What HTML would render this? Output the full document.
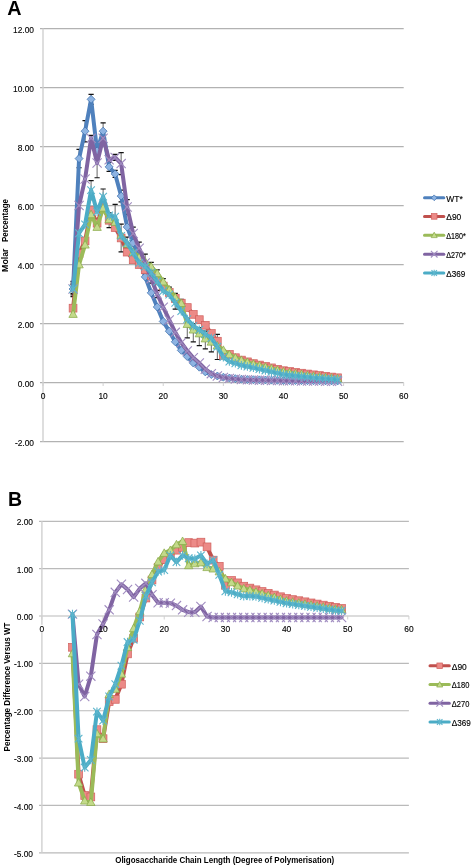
<!DOCTYPE html>
<html><head><meta charset="utf-8"><style>
html,body{margin:0;padding:0;background:#fff;width:472px;height:867px;overflow:hidden}
svg{display:block;font-family:"Liberation Sans",sans-serif;will-change:transform}
</style></head><body>
<svg width="472" height="867" viewBox="0 0 472 867">
<rect width="472" height="867" fill="#fff"/>
<text x="7.3" y="15" font-size="19.5" font-weight="bold" fill="#000" textLength="14.3" lengthAdjust="spacingAndGlyphs">A</text>
<line x1="40" y1="28.5" x2="403.7" y2="28.5" stroke="#B2B2B2" stroke-width="1.25"/>
<text x="34" y="32.6" font-size="8.4" text-anchor="end" fill="#000" stroke="#000" stroke-width="0.12">12.00</text>
<line x1="40" y1="87.5" x2="403.7" y2="87.5" stroke="#B2B2B2" stroke-width="1.25"/>
<text x="34" y="91.6" font-size="8.4" text-anchor="end" fill="#000" stroke="#000" stroke-width="0.12">10.00</text>
<line x1="40" y1="146.5" x2="403.7" y2="146.5" stroke="#B2B2B2" stroke-width="1.25"/>
<text x="34" y="150.6" font-size="8.4" text-anchor="end" fill="#000" stroke="#000" stroke-width="0.12">8.00</text>
<line x1="40" y1="205.5" x2="403.7" y2="205.5" stroke="#B2B2B2" stroke-width="1.25"/>
<text x="34" y="209.6" font-size="8.4" text-anchor="end" fill="#000" stroke="#000" stroke-width="0.12">6.00</text>
<line x1="40" y1="264.5" x2="403.7" y2="264.5" stroke="#B2B2B2" stroke-width="1.25"/>
<text x="34" y="268.6" font-size="8.4" text-anchor="end" fill="#000" stroke="#000" stroke-width="0.12">4.00</text>
<line x1="40" y1="323.5" x2="403.7" y2="323.5" stroke="#B2B2B2" stroke-width="1.25"/>
<text x="34" y="327.6" font-size="8.4" text-anchor="end" fill="#000" stroke="#000" stroke-width="0.12">2.00</text>
<line x1="40" y1="382.5" x2="403.7" y2="382.5" stroke="#B2B2B2" stroke-width="1.25"/>
<text x="34" y="386.6" font-size="8.4" text-anchor="end" fill="#000" stroke="#000" stroke-width="0.12">0.00</text>
<line x1="40" y1="441.5" x2="403.7" y2="441.5" stroke="#B2B2B2" stroke-width="1.25"/>
<text x="34" y="445.6" font-size="8.4" text-anchor="end" fill="#000" stroke="#000" stroke-width="0.12">-2.00</text>
<line x1="43" y1="28.5" x2="43" y2="441.5" stroke="#D0D0D0" stroke-width="1.4"/>
<line x1="43" y1="382.5" x2="43" y2="386" stroke="#D0D0D0" stroke-width="1"/>
<line x1="103.12" y1="382.5" x2="103.12" y2="386" stroke="#D0D0D0" stroke-width="1"/>
<line x1="163.23" y1="382.5" x2="163.23" y2="386" stroke="#D0D0D0" stroke-width="1"/>
<line x1="223.35" y1="382.5" x2="223.35" y2="386" stroke="#D0D0D0" stroke-width="1"/>
<line x1="283.47" y1="382.5" x2="283.47" y2="386" stroke="#D0D0D0" stroke-width="1"/>
<line x1="343.58" y1="382.5" x2="343.58" y2="386" stroke="#D0D0D0" stroke-width="1"/>
<line x1="403.7" y1="382.5" x2="403.7" y2="386" stroke="#D0D0D0" stroke-width="1"/>
<text transform="translate(43 399.0) scale(1 1.13)" font-size="8.4" text-anchor="middle" fill="#000" stroke="#000" stroke-width="0.12">0</text>
<text transform="translate(103.12 399.0) scale(1 1.13)" font-size="8.4" text-anchor="middle" fill="#000" stroke="#000" stroke-width="0.12">10</text>
<text transform="translate(163.23 399.0) scale(1 1.13)" font-size="8.4" text-anchor="middle" fill="#000" stroke="#000" stroke-width="0.12">20</text>
<text transform="translate(223.35 399.0) scale(1 1.13)" font-size="8.4" text-anchor="middle" fill="#000" stroke="#000" stroke-width="0.12">30</text>
<text transform="translate(283.47 399.0) scale(1 1.13)" font-size="8.4" text-anchor="middle" fill="#000" stroke="#000" stroke-width="0.12">40</text>
<text transform="translate(343.58 399.0) scale(1 1.13)" font-size="8.4" text-anchor="middle" fill="#000" stroke="#000" stroke-width="0.12">50</text>
<text transform="translate(403.7 399.0) scale(1 1.13)" font-size="8.4" text-anchor="middle" fill="#000" stroke="#000" stroke-width="0.12">60</text>
<text transform="translate(7.7 260.2) rotate(-90)" font-size="8.3" font-weight="bold" text-anchor="middle" fill="#000" textLength="23.5" lengthAdjust="spacingAndGlyphs">Molar</text>
<text transform="translate(7.7 220.5) rotate(-90)" font-size="8.3" font-weight="bold" text-anchor="middle" fill="#000" textLength="43" lengthAdjust="spacingAndGlyphs">Percentage</text>
<path d="M73.06 281.31L73.06 296.65" stroke="#555" stroke-width="0.9"/><path d="M70.46 281.31L75.66 281.31M70.46 296.65L75.66 296.65" stroke="#111" stroke-width="1.2"/>
<path d="M79.07 149.45L79.07 167.74" stroke="#555" stroke-width="0.9"/><path d="M76.47 149.45L81.67 149.45M76.47 167.74L81.67 167.74" stroke="#111" stroke-width="1.2"/>
<path d="M85.08 120.54L85.08 141.78" stroke="#555" stroke-width="0.9"/><path d="M82.48 120.54L87.68 120.54M82.48 141.78L87.68 141.78" stroke="#111" stroke-width="1.2"/>
<path d="M91.09 94.29L91.09 104.31" stroke="#555" stroke-width="0.9"/><path d="M88.49 94.29L93.69 94.29M88.49 104.31L93.69 104.31" stroke="#111" stroke-width="1.2"/>
<path d="M97.1 145.03L97.1 156.83" stroke="#555" stroke-width="0.9"/><path d="M94.5 145.03L99.7 145.03M94.5 156.83L99.7 156.83" stroke="#111" stroke-width="1.2"/>
<path d="M103.12 122.9L103.12 139.42" stroke="#555" stroke-width="0.9"/><path d="M100.52 122.9L105.72 122.9M100.52 139.42L105.72 139.42" stroke="#111" stroke-width="1.2"/>
<path d="M109.13 162.43L109.13 171.28" stroke="#555" stroke-width="0.9"/><path d="M106.53 162.43L111.73 162.43M106.53 171.28L111.73 171.28" stroke="#111" stroke-width="1.2"/>
<path d="M115.14 170.39L115.14 177.47" stroke="#555" stroke-width="0.9"/><path d="M112.54 170.39L117.74 170.39M112.54 177.47L117.74 177.47" stroke="#111" stroke-width="1.2"/>
<path d="M121.15 190.16L121.15 201.96" stroke="#555" stroke-width="0.9"/><path d="M118.55 190.16L123.75 190.16M118.55 201.96L123.75 201.96" stroke="#111" stroke-width="1.2"/>
<path d="M109.13 212.88L109.13 227.62" stroke="#555" stroke-width="0.9"/><path d="M106.53 212.88L111.73 212.88M106.53 227.62L111.73 227.62" stroke="#111" stroke-width="1.2"/>
<path d="M121.15 224.09L121.15 251.81" stroke="#555" stroke-width="0.9"/><path d="M118.55 224.09L123.75 224.09M118.55 251.81L123.75 251.81" stroke="#111" stroke-width="1.2"/>
<path d="M151.21 262.44L151.21 270.69" stroke="#555" stroke-width="0.9"/><path d="M148.61 262.44L153.81 262.44M148.61 270.69L153.81 270.69" stroke="#111" stroke-width="1.2"/>
<path d="M157.22 269.81L157.22 276.89" stroke="#555" stroke-width="0.9"/><path d="M154.62 269.81L159.82 269.81M154.62 276.89L159.82 276.89" stroke="#111" stroke-width="1.2"/>
<path d="M163.23 278.66L163.23 284.56" stroke="#555" stroke-width="0.9"/><path d="M160.63 278.66L165.83 278.66M160.63 284.56L165.83 284.56" stroke="#111" stroke-width="1.2"/>
<path d="M169.25 287.21L169.25 291.94" stroke="#555" stroke-width="0.9"/><path d="M166.65 287.21L171.84 287.21M166.65 291.94L171.84 291.94" stroke="#111" stroke-width="1.2"/>
<path d="M175.26 293.41L175.26 301.08" stroke="#555" stroke-width="0.9"/><path d="M172.66 293.41L177.86 293.41M172.66 301.08L177.86 301.08" stroke="#111" stroke-width="1.2"/>
<path d="M181.27 299.31L181.27 306.98" stroke="#555" stroke-width="0.9"/><path d="M178.67 299.31L183.87 299.31M178.67 306.98L183.87 306.98" stroke="#111" stroke-width="1.2"/>
<path d="M187.28 318.19L187.28 337.95" stroke="#555" stroke-width="0.9"/><path d="M184.68 318.19L189.88 318.19M184.68 337.95L189.88 337.95" stroke="#111" stroke-width="1.2"/>
<path d="M193.29 323.8L193.29 341.79" stroke="#555" stroke-width="0.9"/><path d="M190.69 323.8L195.89 323.8M190.69 341.79L195.89 341.79" stroke="#111" stroke-width="1.2"/>
<path d="M199.3 327.63L199.3 345.62" stroke="#555" stroke-width="0.9"/><path d="M196.7 327.63L201.9 327.63M196.7 345.62L201.9 345.62" stroke="#111" stroke-width="1.2"/>
<path d="M205.31 331.17L205.31 348.87" stroke="#555" stroke-width="0.9"/><path d="M202.72 331.17L207.91 331.17M202.72 348.87L207.91 348.87" stroke="#111" stroke-width="1.2"/>
<path d="M211.33 331.17L211.33 351.82" stroke="#555" stroke-width="0.9"/><path d="M208.73 331.17L213.93 331.17M208.73 351.82L213.93 351.82" stroke="#111" stroke-width="1.2"/>
<path d="M217.34 334.42L217.34 359.49" stroke="#555" stroke-width="0.9"/><path d="M214.74 334.42L219.94 334.42M214.74 359.49L219.94 359.49" stroke="#111" stroke-width="1.2"/>
<path d="M73.06 284.56L73.06 293.41" stroke="#555" stroke-width="0.9"/><path d="M70.46 284.56L75.66 284.56M70.46 293.41L75.66 293.41" stroke="#111" stroke-width="1.2"/>
<path d="M91.09 135.29L91.09 141.19" stroke="#555" stroke-width="0.9"/><path d="M88.49 135.29L93.69 135.29M88.49 141.19L93.69 141.19" stroke="#111" stroke-width="1.2"/>
<path d="M97.1 148.27L97.1 177.77" stroke="#555" stroke-width="0.9"/><path d="M94.5 148.27L99.7 148.27M94.5 177.77L99.7 177.77" stroke="#111" stroke-width="1.2"/>
<path d="M115.14 154.47L115.14 160.37" stroke="#555" stroke-width="0.9"/><path d="M112.54 154.47L117.74 154.47M112.54 160.37L117.74 160.37" stroke="#111" stroke-width="1.2"/>
<path d="M121.15 152.7L121.15 174.53" stroke="#555" stroke-width="0.9"/><path d="M118.55 152.7L123.75 152.7M118.55 174.53L123.75 174.53" stroke="#111" stroke-width="1.2"/>
<path d="M127.16 199.6L127.16 214.35" stroke="#555" stroke-width="0.9"/><path d="M124.56 199.6L129.76 199.6M124.56 214.35L129.76 214.35" stroke="#111" stroke-width="1.2"/>
<path d="M133.18 227.03L133.18 240.02" stroke="#555" stroke-width="0.9"/><path d="M130.58 227.03L135.78 227.03M130.58 240.02L135.78 240.02" stroke="#111" stroke-width="1.2"/>
<path d="M139.19 242.08L139.19 254.47" stroke="#555" stroke-width="0.9"/><path d="M136.59 242.08L141.79 242.08M136.59 254.47L141.79 254.47" stroke="#111" stroke-width="1.2"/>
<path d="M145.2 254.18L145.2 271.88" stroke="#555" stroke-width="0.9"/><path d="M142.6 254.18L147.8 254.18M142.6 271.88L147.8 271.88" stroke="#111" stroke-width="1.2"/>
<path d="M151.21 274.24L151.21 283.08" stroke="#555" stroke-width="0.9"/><path d="M148.61 274.24L153.81 274.24M148.61 283.08L153.81 283.08" stroke="#111" stroke-width="1.2"/>
<path d="M157.22 290.46L157.22 297.54" stroke="#555" stroke-width="0.9"/><path d="M154.62 290.46L159.82 290.46M154.62 297.54L159.82 297.54" stroke="#111" stroke-width="1.2"/>
<path d="M73.06 283.08L73.06 294.88" stroke="#555" stroke-width="0.9"/><path d="M70.46 283.08L75.66 283.08M70.46 294.88L75.66 294.88" stroke="#111" stroke-width="1.2"/>
<path d="M91.09 180.72L91.09 199.6" stroke="#555" stroke-width="0.9"/><path d="M88.49 180.72L93.69 180.72M88.49 199.6L93.69 199.6" stroke="#111" stroke-width="1.2"/>
<path d="M103.12 188.98L103.12 204.32" stroke="#555" stroke-width="0.9"/><path d="M100.52 188.98L105.72 188.98M100.52 204.32L105.72 204.32" stroke="#111" stroke-width="1.2"/>
<path d="M115.14 204.32L115.14 229.1" stroke="#555" stroke-width="0.9"/><path d="M112.54 204.32L117.74 204.32M112.54 229.1L117.74 229.1" stroke="#111" stroke-width="1.2"/>
<path d="M127.16 237.06L127.16 248.86" stroke="#555" stroke-width="0.9"/><path d="M124.56 237.06L129.76 237.06M124.56 248.86L129.76 248.86" stroke="#111" stroke-width="1.2"/>
<path d="M175.26 296.65L175.26 309.05" stroke="#555" stroke-width="0.9"/><path d="M172.66 296.65L177.86 296.65M172.66 309.05L177.86 309.05" stroke="#111" stroke-width="1.2"/>
<polyline points="73.06,288.99 79.07,158.59 85.08,131.16 91.09,99.3 97.1,150.92 103.12,131.16 109.13,166.86 115.14,173.93 121.15,196.06 127.16,227.03 133.18,242.97 139.19,258.6 145.2,276.89 151.21,292.82 157.22,306.98 163.23,321.44 169.25,331.17 175.26,341.79 181.27,350.35 187.28,356.54 193.29,363.03 199.3,367.16 205.31,371.88 211.33,374.54 217.34,376.01 223.35,377.19 229.36,378.07 235.37,378.67 241.39,379.25 247.4,379.55 253.41,379.7 259.42,379.85 265.43,379.99 271.44,380.14 277.45,380.29 283.47,380.44 289.48,380.5 295.49,380.57 301.5,380.63 307.51,380.7 313.52,380.76 319.54,380.83 325.55,380.89 331.56,380.96 337.57,381.02" fill="none" stroke="#4F81BD" stroke-width="4.0" stroke-linejoin="round" stroke-linecap="round"/>
<path d="M73.06 284.99L77.06 288.99L73.06 292.99L69.06 288.99Z" fill="#8DB3E2" stroke="#3A6DAA" stroke-width="0.7"/>
<path d="M79.07 154.59L83.07 158.59L79.07 162.59L75.07 158.59Z" fill="#8DB3E2" stroke="#3A6DAA" stroke-width="0.7"/>
<path d="M85.08 127.16L89.08 131.16L85.08 135.16L81.08 131.16Z" fill="#8DB3E2" stroke="#3A6DAA" stroke-width="0.7"/>
<path d="M91.09 95.3L95.09 99.3L91.09 103.3L87.09 99.3Z" fill="#8DB3E2" stroke="#3A6DAA" stroke-width="0.7"/>
<path d="M97.1 146.92L101.1 150.92L97.1 154.92L93.1 150.92Z" fill="#8DB3E2" stroke="#3A6DAA" stroke-width="0.7"/>
<path d="M103.12 127.16L107.12 131.16L103.12 135.16L99.12 131.16Z" fill="#8DB3E2" stroke="#3A6DAA" stroke-width="0.7"/>
<path d="M109.13 162.86L113.13 166.86L109.13 170.86L105.13 166.86Z" fill="#8DB3E2" stroke="#3A6DAA" stroke-width="0.7"/>
<path d="M115.14 169.93L119.14 173.93L115.14 177.93L111.14 173.93Z" fill="#8DB3E2" stroke="#3A6DAA" stroke-width="0.7"/>
<path d="M121.15 192.06L125.15 196.06L121.15 200.06L117.15 196.06Z" fill="#8DB3E2" stroke="#3A6DAA" stroke-width="0.7"/>
<path d="M127.16 223.03L131.16 227.03L127.16 231.03L123.16 227.03Z" fill="#8DB3E2" stroke="#3A6DAA" stroke-width="0.7"/>
<path d="M133.18 238.97L137.18 242.97L133.18 246.97L129.18 242.97Z" fill="#8DB3E2" stroke="#3A6DAA" stroke-width="0.7"/>
<path d="M139.19 254.6L143.19 258.6L139.19 262.6L135.19 258.6Z" fill="#8DB3E2" stroke="#3A6DAA" stroke-width="0.7"/>
<path d="M145.2 272.89L149.2 276.89L145.2 280.89L141.2 276.89Z" fill="#8DB3E2" stroke="#3A6DAA" stroke-width="0.7"/>
<path d="M151.21 288.82L155.21 292.82L151.21 296.82L147.21 292.82Z" fill="#8DB3E2" stroke="#3A6DAA" stroke-width="0.7"/>
<path d="M157.22 302.98L161.22 306.98L157.22 310.98L153.22 306.98Z" fill="#8DB3E2" stroke="#3A6DAA" stroke-width="0.7"/>
<path d="M163.23 317.44L167.23 321.44L163.23 325.44L159.23 321.44Z" fill="#8DB3E2" stroke="#3A6DAA" stroke-width="0.7"/>
<path d="M169.25 327.17L173.25 331.17L169.25 335.17L165.25 331.17Z" fill="#8DB3E2" stroke="#3A6DAA" stroke-width="0.7"/>
<path d="M175.26 337.79L179.26 341.79L175.26 345.79L171.26 341.79Z" fill="#8DB3E2" stroke="#3A6DAA" stroke-width="0.7"/>
<path d="M181.27 346.35L185.27 350.35L181.27 354.35L177.27 350.35Z" fill="#8DB3E2" stroke="#3A6DAA" stroke-width="0.7"/>
<path d="M187.28 352.54L191.28 356.54L187.28 360.54L183.28 356.54Z" fill="#8DB3E2" stroke="#3A6DAA" stroke-width="0.7"/>
<path d="M193.29 359.03L197.29 363.03L193.29 367.03L189.29 363.03Z" fill="#8DB3E2" stroke="#3A6DAA" stroke-width="0.7"/>
<path d="M199.3 363.16L203.3 367.16L199.3 371.16L195.3 367.16Z" fill="#8DB3E2" stroke="#3A6DAA" stroke-width="0.7"/>
<path d="M205.31 367.88L209.31 371.88L205.31 375.88L201.31 371.88Z" fill="#8DB3E2" stroke="#3A6DAA" stroke-width="0.7"/>
<path d="M211.33 370.54L215.33 374.54L211.33 378.54L207.33 374.54Z" fill="#8DB3E2" stroke="#3A6DAA" stroke-width="0.7"/>
<path d="M217.34 372.01L221.34 376.01L217.34 380.01L213.34 376.01Z" fill="#8DB3E2" stroke="#3A6DAA" stroke-width="0.7"/>
<path d="M223.35 373.19L227.35 377.19L223.35 381.19L219.35 377.19Z" fill="#8DB3E2" stroke="#3A6DAA" stroke-width="0.7"/>
<path d="M229.36 374.07L233.36 378.07L229.36 382.07L225.36 378.07Z" fill="#8DB3E2" stroke="#3A6DAA" stroke-width="0.7"/>
<path d="M235.37 374.67L239.37 378.67L235.37 382.67L231.37 378.67Z" fill="#8DB3E2" stroke="#3A6DAA" stroke-width="0.7"/>
<path d="M241.39 375.25L245.39 379.25L241.39 383.25L237.39 379.25Z" fill="#8DB3E2" stroke="#3A6DAA" stroke-width="0.7"/>
<path d="M247.4 375.55L251.4 379.55L247.4 383.55L243.4 379.55Z" fill="#8DB3E2" stroke="#3A6DAA" stroke-width="0.7"/>
<path d="M253.41 375.7L257.41 379.7L253.41 383.7L249.41 379.7Z" fill="#8DB3E2" stroke="#3A6DAA" stroke-width="0.7"/>
<path d="M259.42 375.85L263.42 379.85L259.42 383.85L255.42 379.85Z" fill="#8DB3E2" stroke="#3A6DAA" stroke-width="0.7"/>
<path d="M265.43 375.99L269.43 379.99L265.43 383.99L261.43 379.99Z" fill="#8DB3E2" stroke="#3A6DAA" stroke-width="0.7"/>
<path d="M271.44 376.14L275.44 380.14L271.44 384.14L267.44 380.14Z" fill="#8DB3E2" stroke="#3A6DAA" stroke-width="0.7"/>
<path d="M277.45 376.29L281.45 380.29L277.45 384.29L273.45 380.29Z" fill="#8DB3E2" stroke="#3A6DAA" stroke-width="0.7"/>
<path d="M283.47 376.44L287.47 380.44L283.47 384.44L279.47 380.44Z" fill="#8DB3E2" stroke="#3A6DAA" stroke-width="0.7"/>
<path d="M289.48 376.5L293.48 380.5L289.48 384.5L285.48 380.5Z" fill="#8DB3E2" stroke="#3A6DAA" stroke-width="0.7"/>
<path d="M295.49 376.57L299.49 380.57L295.49 384.57L291.49 380.57Z" fill="#8DB3E2" stroke="#3A6DAA" stroke-width="0.7"/>
<path d="M301.5 376.63L305.5 380.63L301.5 384.63L297.5 380.63Z" fill="#8DB3E2" stroke="#3A6DAA" stroke-width="0.7"/>
<path d="M307.51 376.7L311.51 380.7L307.51 384.7L303.51 380.7Z" fill="#8DB3E2" stroke="#3A6DAA" stroke-width="0.7"/>
<path d="M313.52 376.76L317.52 380.76L313.52 384.76L309.52 380.76Z" fill="#8DB3E2" stroke="#3A6DAA" stroke-width="0.7"/>
<path d="M319.54 376.83L323.54 380.83L319.54 384.83L315.54 380.83Z" fill="#8DB3E2" stroke="#3A6DAA" stroke-width="0.7"/>
<path d="M325.55 376.89L329.55 380.89L325.55 384.89L321.55 380.89Z" fill="#8DB3E2" stroke="#3A6DAA" stroke-width="0.7"/>
<path d="M331.56 376.96L335.56 380.96L331.56 384.96L327.56 380.96Z" fill="#8DB3E2" stroke="#3A6DAA" stroke-width="0.7"/>
<path d="M337.57 377.02L341.57 381.02L337.57 385.02L333.57 381.02Z" fill="#8DB3E2" stroke="#3A6DAA" stroke-width="0.7"/>
<polyline points="73.06,308.16 79.07,253.59 85.08,240.9 91.09,210.51 97.1,223.2 103.12,206.97 109.13,220.25 115.14,227.62 121.15,237.95 127.16,252.11 133.18,259.78 139.19,264.5 145.2,269.81 151.21,275.71 157.22,280.73 163.23,286.04 169.25,292.52 175.26,298.43 181.27,303.14 187.28,307.57 193.29,314.36 199.3,319.67 205.31,325.27 211.33,333.53 217.34,341.2 223.35,355.36 229.36,354.48 235.37,357.72 241.39,360.08 247.4,361.85 253.41,363.62 259.42,365.04 265.43,366.45 271.44,367.87 277.45,369.28 283.47,370.7 289.48,371.53 295.49,372.35 301.5,373.18 307.51,374 313.52,374.83 319.54,375.57 325.55,376.31 331.56,377.04 337.57,377.78" fill="none" stroke="#C0504D" stroke-width="4.0" stroke-linejoin="round" stroke-linecap="round"/>
<rect x="69.16" y="304.26" width="7.8" height="7.8" fill="#EC8A87" stroke="#D0605D" stroke-width="0.7"/>
<rect x="75.17" y="249.69" width="7.8" height="7.8" fill="#EC8A87" stroke="#D0605D" stroke-width="0.7"/>
<rect x="81.18" y="237" width="7.8" height="7.8" fill="#EC8A87" stroke="#D0605D" stroke-width="0.7"/>
<rect x="87.19" y="206.61" width="7.8" height="7.8" fill="#EC8A87" stroke="#D0605D" stroke-width="0.7"/>
<rect x="93.2" y="219.3" width="7.8" height="7.8" fill="#EC8A87" stroke="#D0605D" stroke-width="0.7"/>
<rect x="99.22" y="203.07" width="7.8" height="7.8" fill="#EC8A87" stroke="#D0605D" stroke-width="0.7"/>
<rect x="105.23" y="216.35" width="7.8" height="7.8" fill="#EC8A87" stroke="#D0605D" stroke-width="0.7"/>
<rect x="111.24" y="223.72" width="7.8" height="7.8" fill="#EC8A87" stroke="#D0605D" stroke-width="0.7"/>
<rect x="117.25" y="234.05" width="7.8" height="7.8" fill="#EC8A87" stroke="#D0605D" stroke-width="0.7"/>
<rect x="123.26" y="248.21" width="7.8" height="7.8" fill="#EC8A87" stroke="#D0605D" stroke-width="0.7"/>
<rect x="129.28" y="255.88" width="7.8" height="7.8" fill="#EC8A87" stroke="#D0605D" stroke-width="0.7"/>
<rect x="135.29" y="260.6" width="7.8" height="7.8" fill="#EC8A87" stroke="#D0605D" stroke-width="0.7"/>
<rect x="141.3" y="265.91" width="7.8" height="7.8" fill="#EC8A87" stroke="#D0605D" stroke-width="0.7"/>
<rect x="147.31" y="271.81" width="7.8" height="7.8" fill="#EC8A87" stroke="#D0605D" stroke-width="0.7"/>
<rect x="153.32" y="276.83" width="7.8" height="7.8" fill="#EC8A87" stroke="#D0605D" stroke-width="0.7"/>
<rect x="159.33" y="282.14" width="7.8" height="7.8" fill="#EC8A87" stroke="#D0605D" stroke-width="0.7"/>
<rect x="165.34" y="288.62" width="7.8" height="7.8" fill="#EC8A87" stroke="#D0605D" stroke-width="0.7"/>
<rect x="171.36" y="294.53" width="7.8" height="7.8" fill="#EC8A87" stroke="#D0605D" stroke-width="0.7"/>
<rect x="177.37" y="299.25" width="7.8" height="7.8" fill="#EC8A87" stroke="#D0605D" stroke-width="0.7"/>
<rect x="183.38" y="303.67" width="7.8" height="7.8" fill="#EC8A87" stroke="#D0605D" stroke-width="0.7"/>
<rect x="189.39" y="310.46" width="7.8" height="7.8" fill="#EC8A87" stroke="#D0605D" stroke-width="0.7"/>
<rect x="195.4" y="315.77" width="7.8" height="7.8" fill="#EC8A87" stroke="#D0605D" stroke-width="0.7"/>
<rect x="201.41" y="321.37" width="7.8" height="7.8" fill="#EC8A87" stroke="#D0605D" stroke-width="0.7"/>
<rect x="207.43" y="329.63" width="7.8" height="7.8" fill="#EC8A87" stroke="#D0605D" stroke-width="0.7"/>
<rect x="213.44" y="337.3" width="7.8" height="7.8" fill="#EC8A87" stroke="#D0605D" stroke-width="0.7"/>
<rect x="219.45" y="351.46" width="7.8" height="7.8" fill="#EC8A87" stroke="#D0605D" stroke-width="0.7"/>
<rect x="225.46" y="350.58" width="7.8" height="7.8" fill="#EC8A87" stroke="#D0605D" stroke-width="0.7"/>
<rect x="231.47" y="353.82" width="7.8" height="7.8" fill="#EC8A87" stroke="#D0605D" stroke-width="0.7"/>
<rect x="237.49" y="356.18" width="7.8" height="7.8" fill="#EC8A87" stroke="#D0605D" stroke-width="0.7"/>
<rect x="243.5" y="357.95" width="7.8" height="7.8" fill="#EC8A87" stroke="#D0605D" stroke-width="0.7"/>
<rect x="249.51" y="359.72" width="7.8" height="7.8" fill="#EC8A87" stroke="#D0605D" stroke-width="0.7"/>
<rect x="255.52" y="361.14" width="7.8" height="7.8" fill="#EC8A87" stroke="#D0605D" stroke-width="0.7"/>
<rect x="261.53" y="362.55" width="7.8" height="7.8" fill="#EC8A87" stroke="#D0605D" stroke-width="0.7"/>
<rect x="267.54" y="363.97" width="7.8" height="7.8" fill="#EC8A87" stroke="#D0605D" stroke-width="0.7"/>
<rect x="273.56" y="365.38" width="7.8" height="7.8" fill="#EC8A87" stroke="#D0605D" stroke-width="0.7"/>
<rect x="279.57" y="366.8" width="7.8" height="7.8" fill="#EC8A87" stroke="#D0605D" stroke-width="0.7"/>
<rect x="285.58" y="367.63" width="7.8" height="7.8" fill="#EC8A87" stroke="#D0605D" stroke-width="0.7"/>
<rect x="291.59" y="368.45" width="7.8" height="7.8" fill="#EC8A87" stroke="#D0605D" stroke-width="0.7"/>
<rect x="297.6" y="369.28" width="7.8" height="7.8" fill="#EC8A87" stroke="#D0605D" stroke-width="0.7"/>
<rect x="303.61" y="370.1" width="7.8" height="7.8" fill="#EC8A87" stroke="#D0605D" stroke-width="0.7"/>
<rect x="309.62" y="370.93" width="7.8" height="7.8" fill="#EC8A87" stroke="#D0605D" stroke-width="0.7"/>
<rect x="315.64" y="371.67" width="7.8" height="7.8" fill="#EC8A87" stroke="#D0605D" stroke-width="0.7"/>
<rect x="321.65" y="372.41" width="7.8" height="7.8" fill="#EC8A87" stroke="#D0605D" stroke-width="0.7"/>
<rect x="327.66" y="373.14" width="7.8" height="7.8" fill="#EC8A87" stroke="#D0605D" stroke-width="0.7"/>
<rect x="333.67" y="373.88" width="7.8" height="7.8" fill="#EC8A87" stroke="#D0605D" stroke-width="0.7"/>
<polyline points="73.06,314.06 79.07,264.5 85.08,244.73 91.09,214.35 97.1,227.03 103.12,207.86 109.13,219.36 115.14,222.02 121.15,235 127.16,243.85 133.18,252.11 139.19,257.12 145.2,261.55 151.21,266.56 157.22,273.35 163.23,281.61 169.25,289.57 175.26,297.25 181.27,303.14 187.28,324.09 193.29,329.69 199.3,333.53 205.31,338.55 211.33,341.79 217.34,345.62 223.35,350.05 229.36,354.48 235.37,357.72 241.39,360.08 247.4,362.14 253.41,363.92 259.42,365.45 265.43,366.98 271.44,368.52 277.45,370.05 283.47,371.58 289.48,372.47 295.49,373.36 301.5,374.24 307.51,375.12 313.52,376.01 319.54,376.6 325.55,377.19 331.56,377.78 337.57,378.37" fill="none" stroke="#9BBB59" stroke-width="4.0" stroke-linejoin="round" stroke-linecap="round"/>
<path d="M73.06 309.86L77.26 317.42L68.86 317.42Z" fill="#C3DA8A" stroke="#86A846" stroke-width="0.7"/>
<path d="M79.07 260.3L83.27 267.86L74.87 267.86Z" fill="#C3DA8A" stroke="#86A846" stroke-width="0.7"/>
<path d="M85.08 240.53L89.28 248.09L80.88 248.09Z" fill="#C3DA8A" stroke="#86A846" stroke-width="0.7"/>
<path d="M91.09 210.15L95.29 217.71L86.89 217.71Z" fill="#C3DA8A" stroke="#86A846" stroke-width="0.7"/>
<path d="M97.1 222.84L101.3 230.4L92.9 230.4Z" fill="#C3DA8A" stroke="#86A846" stroke-width="0.7"/>
<path d="M103.12 203.66L107.32 211.22L98.92 211.22Z" fill="#C3DA8A" stroke="#86A846" stroke-width="0.7"/>
<path d="M109.13 215.16L113.33 222.72L104.93 222.72Z" fill="#C3DA8A" stroke="#86A846" stroke-width="0.7"/>
<path d="M115.14 217.82L119.34 225.38L110.94 225.38Z" fill="#C3DA8A" stroke="#86A846" stroke-width="0.7"/>
<path d="M121.15 230.8L125.35 238.36L116.95 238.36Z" fill="#C3DA8A" stroke="#86A846" stroke-width="0.7"/>
<path d="M127.16 239.65L131.36 247.21L122.96 247.21Z" fill="#C3DA8A" stroke="#86A846" stroke-width="0.7"/>
<path d="M133.18 247.91L137.38 255.47L128.98 255.47Z" fill="#C3DA8A" stroke="#86A846" stroke-width="0.7"/>
<path d="M139.19 252.93L143.39 260.49L134.99 260.49Z" fill="#C3DA8A" stroke="#86A846" stroke-width="0.7"/>
<path d="M145.2 257.35L149.4 264.91L141 264.91Z" fill="#C3DA8A" stroke="#86A846" stroke-width="0.7"/>
<path d="M151.21 262.37L155.41 269.93L147.01 269.93Z" fill="#C3DA8A" stroke="#86A846" stroke-width="0.7"/>
<path d="M157.22 269.15L161.42 276.71L153.02 276.71Z" fill="#C3DA8A" stroke="#86A846" stroke-width="0.7"/>
<path d="M163.23 277.41L167.43 284.97L159.03 284.97Z" fill="#C3DA8A" stroke="#86A846" stroke-width="0.7"/>
<path d="M169.25 285.38L173.44 292.94L165.05 292.94Z" fill="#C3DA8A" stroke="#86A846" stroke-width="0.7"/>
<path d="M175.26 293.05L179.46 300.61L171.06 300.61Z" fill="#C3DA8A" stroke="#86A846" stroke-width="0.7"/>
<path d="M181.27 298.94L185.47 306.5L177.07 306.5Z" fill="#C3DA8A" stroke="#86A846" stroke-width="0.7"/>
<path d="M187.28 319.89L191.48 327.45L183.08 327.45Z" fill="#C3DA8A" stroke="#86A846" stroke-width="0.7"/>
<path d="M193.29 325.5L197.49 333.06L189.09 333.06Z" fill="#C3DA8A" stroke="#86A846" stroke-width="0.7"/>
<path d="M199.3 329.33L203.5 336.89L195.1 336.89Z" fill="#C3DA8A" stroke="#86A846" stroke-width="0.7"/>
<path d="M205.31 334.35L209.51 341.91L201.12 341.91Z" fill="#C3DA8A" stroke="#86A846" stroke-width="0.7"/>
<path d="M211.33 337.59L215.53 345.15L207.13 345.15Z" fill="#C3DA8A" stroke="#86A846" stroke-width="0.7"/>
<path d="M217.34 341.43L221.54 348.99L213.14 348.99Z" fill="#C3DA8A" stroke="#86A846" stroke-width="0.7"/>
<path d="M223.35 345.85L227.55 353.41L219.15 353.41Z" fill="#C3DA8A" stroke="#86A846" stroke-width="0.7"/>
<path d="M229.36 350.28L233.56 357.84L225.16 357.84Z" fill="#C3DA8A" stroke="#86A846" stroke-width="0.7"/>
<path d="M235.37 353.52L239.57 361.08L231.17 361.08Z" fill="#C3DA8A" stroke="#86A846" stroke-width="0.7"/>
<path d="M241.39 355.88L245.59 363.44L237.19 363.44Z" fill="#C3DA8A" stroke="#86A846" stroke-width="0.7"/>
<path d="M247.4 357.94L251.6 365.5L243.2 365.5Z" fill="#C3DA8A" stroke="#86A846" stroke-width="0.7"/>
<path d="M253.41 359.72L257.61 367.28L249.21 367.28Z" fill="#C3DA8A" stroke="#86A846" stroke-width="0.7"/>
<path d="M259.42 361.25L263.62 368.81L255.22 368.81Z" fill="#C3DA8A" stroke="#86A846" stroke-width="0.7"/>
<path d="M265.43 362.78L269.63 370.34L261.23 370.34Z" fill="#C3DA8A" stroke="#86A846" stroke-width="0.7"/>
<path d="M271.44 364.32L275.64 371.88L267.24 371.88Z" fill="#C3DA8A" stroke="#86A846" stroke-width="0.7"/>
<path d="M277.45 365.85L281.65 373.41L273.25 373.41Z" fill="#C3DA8A" stroke="#86A846" stroke-width="0.7"/>
<path d="M283.47 367.38L287.67 374.94L279.27 374.94Z" fill="#C3DA8A" stroke="#86A846" stroke-width="0.7"/>
<path d="M289.48 368.27L293.68 375.83L285.28 375.83Z" fill="#C3DA8A" stroke="#86A846" stroke-width="0.7"/>
<path d="M295.49 369.16L299.69 376.72L291.29 376.72Z" fill="#C3DA8A" stroke="#86A846" stroke-width="0.7"/>
<path d="M301.5 370.04L305.7 377.6L297.3 377.6Z" fill="#C3DA8A" stroke="#86A846" stroke-width="0.7"/>
<path d="M307.51 370.93L311.71 378.49L303.31 378.49Z" fill="#C3DA8A" stroke="#86A846" stroke-width="0.7"/>
<path d="M313.52 371.81L317.72 379.37L309.32 379.37Z" fill="#C3DA8A" stroke="#86A846" stroke-width="0.7"/>
<path d="M319.54 372.4L323.74 379.96L315.34 379.96Z" fill="#C3DA8A" stroke="#86A846" stroke-width="0.7"/>
<path d="M325.55 372.99L329.75 380.55L321.35 380.55Z" fill="#C3DA8A" stroke="#86A846" stroke-width="0.7"/>
<path d="M331.56 373.58L335.76 381.14L327.36 381.14Z" fill="#C3DA8A" stroke="#86A846" stroke-width="0.7"/>
<path d="M337.57 374.17L341.77 381.73L333.37 381.73Z" fill="#C3DA8A" stroke="#86A846" stroke-width="0.7"/>
<polyline points="73.06,288.99 79.07,205.5 85.08,178.95 91.09,138.24 97.1,163.02 103.12,138.24 109.13,159.78 115.14,157.41 121.15,163.61 127.16,206.97 133.18,233.53 139.19,248.28 145.2,263.02 151.21,278.66 157.22,294 163.23,307.27 169.25,319.96 175.26,332.35 181.27,342.68 187.28,350.94 193.29,357.72 199.3,363.03 205.31,369.23 211.33,373.65 217.34,376.01 223.35,377.49 229.36,378.37 235.37,378.96 241.39,379.55 247.4,379.85 253.41,379.99 259.42,380.14 265.43,380.29 271.44,380.44 277.45,380.58 283.47,380.73 289.48,380.8 295.49,380.86 301.5,380.93 307.51,380.99 313.52,381.06 319.54,381.12 325.55,381.19 331.56,381.25 337.57,381.32" fill="none" stroke="#8064A2" stroke-width="4.0" stroke-linejoin="round" stroke-linecap="round"/>
<path d="M68.46 284.38L77.66 293.59M77.66 284.38L68.46 293.59" stroke="#A08CC0" stroke-width="1.1"/>
<path d="M74.47 200.9L83.67 210.1M83.67 200.9L74.47 210.1" stroke="#A08CC0" stroke-width="1.1"/>
<path d="M80.48 174.35L89.68 183.55M89.68 174.35L80.48 183.55" stroke="#A08CC0" stroke-width="1.1"/>
<path d="M86.49 133.64L95.69 142.84M95.69 133.64L86.49 142.84" stroke="#A08CC0" stroke-width="1.1"/>
<path d="M92.5 158.42L101.7 167.62M101.7 158.42L92.5 167.62" stroke="#A08CC0" stroke-width="1.1"/>
<path d="M98.52 133.64L107.72 142.84M107.72 133.64L98.52 142.84" stroke="#A08CC0" stroke-width="1.1"/>
<path d="M104.53 155.18L113.73 164.38M113.73 155.18L104.53 164.38" stroke="#A08CC0" stroke-width="1.1"/>
<path d="M110.54 152.81L119.74 162.01M119.74 152.81L110.54 162.01" stroke="#A08CC0" stroke-width="1.1"/>
<path d="M116.55 159.01L125.75 168.21M125.75 159.01L116.55 168.21" stroke="#A08CC0" stroke-width="1.1"/>
<path d="M122.56 202.38L131.76 211.57M131.76 202.38L122.56 211.57" stroke="#A08CC0" stroke-width="1.1"/>
<path d="M128.58 228.93L137.78 238.12M137.78 228.93L128.58 238.12" stroke="#A08CC0" stroke-width="1.1"/>
<path d="M134.59 243.68L143.79 252.88M143.79 243.68L134.59 252.88" stroke="#A08CC0" stroke-width="1.1"/>
<path d="M140.6 258.42L149.8 267.62M149.8 258.42L140.6 267.62" stroke="#A08CC0" stroke-width="1.1"/>
<path d="M146.61 274.06L155.81 283.26M155.81 274.06L146.61 283.26" stroke="#A08CC0" stroke-width="1.1"/>
<path d="M152.62 289.4L161.82 298.6M161.82 289.4L152.62 298.6" stroke="#A08CC0" stroke-width="1.1"/>
<path d="M158.63 302.67L167.83 311.88M167.83 302.67L158.63 311.88" stroke="#A08CC0" stroke-width="1.1"/>
<path d="M164.65 315.36L173.84 324.56M173.84 315.36L164.65 324.56" stroke="#A08CC0" stroke-width="1.1"/>
<path d="M170.66 327.75L179.86 336.95M179.86 327.75L170.66 336.95" stroke="#A08CC0" stroke-width="1.1"/>
<path d="M176.67 338.07L185.87 347.28M185.87 338.07L176.67 347.28" stroke="#A08CC0" stroke-width="1.1"/>
<path d="M182.68 346.33L191.88 355.54M191.88 346.33L182.68 355.54" stroke="#A08CC0" stroke-width="1.1"/>
<path d="M188.69 353.12L197.89 362.32M197.89 353.12L188.69 362.32" stroke="#A08CC0" stroke-width="1.1"/>
<path d="M194.7 358.43L203.9 367.63M203.9 358.43L194.7 367.63" stroke="#A08CC0" stroke-width="1.1"/>
<path d="M200.72 364.62L209.91 373.83M209.91 364.62L200.72 373.83" stroke="#A08CC0" stroke-width="1.1"/>
<path d="M206.73 369.05L215.93 378.25M215.93 369.05L206.73 378.25" stroke="#A08CC0" stroke-width="1.1"/>
<path d="M212.74 371.41L221.94 380.61M221.94 371.41L212.74 380.61" stroke="#A08CC0" stroke-width="1.1"/>
<path d="M218.75 372.88L227.95 382.09M227.95 372.88L218.75 382.09" stroke="#A08CC0" stroke-width="1.1"/>
<path d="M224.76 373.77L233.96 382.97M233.96 373.77L224.76 382.97" stroke="#A08CC0" stroke-width="1.1"/>
<path d="M230.77 374.36L239.97 383.56M239.97 374.36L230.77 383.56" stroke="#A08CC0" stroke-width="1.1"/>
<path d="M236.79 374.95L245.99 384.15M245.99 374.95L236.79 384.15" stroke="#A08CC0" stroke-width="1.1"/>
<path d="M242.8 375.25L252 384.45M252 375.25L242.8 384.45" stroke="#A08CC0" stroke-width="1.1"/>
<path d="M248.81 375.39L258.01 384.59M258.01 375.39L248.81 384.59" stroke="#A08CC0" stroke-width="1.1"/>
<path d="M254.82 375.54L264.02 384.74M264.02 375.54L254.82 384.74" stroke="#A08CC0" stroke-width="1.1"/>
<path d="M260.83 375.69L270.03 384.89M270.03 375.69L260.83 384.89" stroke="#A08CC0" stroke-width="1.1"/>
<path d="M266.84 375.83L276.04 385.04M276.04 375.83L266.84 385.04" stroke="#A08CC0" stroke-width="1.1"/>
<path d="M272.85 375.98L282.06 385.18M282.06 375.98L272.85 385.18" stroke="#A08CC0" stroke-width="1.1"/>
<path d="M278.87 376.13L288.07 385.33M288.07 376.13L278.87 385.33" stroke="#A08CC0" stroke-width="1.1"/>
<path d="M284.88 376.2L294.08 385.4M294.08 376.2L284.88 385.4" stroke="#A08CC0" stroke-width="1.1"/>
<path d="M290.89 376.26L300.09 385.46M300.09 376.26L290.89 385.46" stroke="#A08CC0" stroke-width="1.1"/>
<path d="M296.9 376.33L306.1 385.53M306.1 376.33L296.9 385.53" stroke="#A08CC0" stroke-width="1.1"/>
<path d="M302.91 376.39L312.11 385.59M312.11 376.39L302.91 385.59" stroke="#A08CC0" stroke-width="1.1"/>
<path d="M308.92 376.46L318.12 385.66M318.12 376.46L308.92 385.66" stroke="#A08CC0" stroke-width="1.1"/>
<path d="M314.94 376.52L324.14 385.72M324.14 376.52L314.94 385.72" stroke="#A08CC0" stroke-width="1.1"/>
<path d="M320.95 376.59L330.15 385.79M330.15 376.59L320.95 385.79" stroke="#A08CC0" stroke-width="1.1"/>
<path d="M326.96 376.65L336.16 385.85M336.16 376.65L326.96 385.85" stroke="#A08CC0" stroke-width="1.1"/>
<path d="M332.97 376.72L342.17 385.92M342.17 376.72L332.97 385.92" stroke="#A08CC0" stroke-width="1.1"/>
<polyline points="73.06,288.99 79.07,233.23 85.08,224.38 91.09,190.16 97.1,211.7 103.12,196.65 109.13,215.53 115.14,216.71 121.15,235.89 127.16,242.97 133.18,252.7 139.19,263.02 145.2,266.56 151.21,272.76 157.22,281.61 163.23,291.05 169.25,294.59 175.26,302.85 181.27,311.11 187.28,319.07 193.29,325.86 199.3,329.69 205.31,334.12 211.33,337.95 217.34,346.81 223.35,357.13 229.36,361.56 235.37,363.32 241.39,365.39 247.4,366.57 253.41,367.75 259.42,369.11 265.43,370.46 271.44,371.82 277.45,373.18 283.47,374.54 289.48,375.18 295.49,375.83 301.5,376.48 307.51,377.13 313.52,377.78 319.54,378.22 325.55,378.67 331.56,379.11 337.57,379.55" fill="none" stroke="#4BACC6" stroke-width="4.0" stroke-linejoin="round" stroke-linecap="round"/>
<path d="M69.26 285.19L76.86 292.79M76.86 285.19L69.26 292.79M73.06 284.69L73.06 293.29" stroke="#5DB5CC" stroke-width="1.1"/>
<path d="M75.27 229.43L82.87 237.03M82.87 229.43L75.27 237.03M79.07 228.93L79.07 237.53" stroke="#5DB5CC" stroke-width="1.1"/>
<path d="M81.28 220.58L88.88 228.18M88.88 220.58L81.28 228.18M85.08 220.08L85.08 228.68" stroke="#5DB5CC" stroke-width="1.1"/>
<path d="M87.29 186.36L94.89 193.96M94.89 186.36L87.29 193.96M91.09 185.86L91.09 194.46" stroke="#5DB5CC" stroke-width="1.1"/>
<path d="M93.3 207.9L100.9 215.5M100.9 207.9L93.3 215.5M97.1 207.4L97.1 216" stroke="#5DB5CC" stroke-width="1.1"/>
<path d="M99.32 192.85L106.92 200.45M106.92 192.85L99.32 200.45M103.12 192.35L103.12 200.95" stroke="#5DB5CC" stroke-width="1.1"/>
<path d="M105.33 211.73L112.93 219.33M112.93 211.73L105.33 219.33M109.13 211.23L109.13 219.83" stroke="#5DB5CC" stroke-width="1.1"/>
<path d="M111.34 212.91L118.94 220.51M118.94 212.91L111.34 220.51M115.14 212.41L115.14 221.01" stroke="#5DB5CC" stroke-width="1.1"/>
<path d="M117.35 232.09L124.95 239.69M124.95 232.09L117.35 239.69M121.15 231.59L121.15 240.19" stroke="#5DB5CC" stroke-width="1.1"/>
<path d="M123.36 239.16L130.96 246.77M130.96 239.16L123.36 246.77M127.16 238.66L127.16 247.27" stroke="#5DB5CC" stroke-width="1.1"/>
<path d="M129.38 248.9L136.98 256.5M136.98 248.9L129.38 256.5M133.18 248.4L133.18 257" stroke="#5DB5CC" stroke-width="1.1"/>
<path d="M135.39 259.22L142.99 266.82M142.99 259.22L135.39 266.82M139.19 258.72L139.19 267.32" stroke="#5DB5CC" stroke-width="1.1"/>
<path d="M141.4 262.76L149 270.37M149 262.76L141.4 270.37M145.2 262.26L145.2 270.87" stroke="#5DB5CC" stroke-width="1.1"/>
<path d="M147.41 268.96L155.01 276.56M155.01 268.96L147.41 276.56M151.21 268.46L151.21 277.06" stroke="#5DB5CC" stroke-width="1.1"/>
<path d="M153.42 277.81L161.02 285.41M161.02 277.81L153.42 285.41M157.22 277.31L157.22 285.91" stroke="#5DB5CC" stroke-width="1.1"/>
<path d="M159.43 287.25L167.03 294.85M167.03 287.25L159.43 294.85M163.23 286.75L163.23 295.35" stroke="#5DB5CC" stroke-width="1.1"/>
<path d="M165.44 290.79L173.05 298.39M173.05 290.79L165.44 298.39M169.25 290.29L169.25 298.89" stroke="#5DB5CC" stroke-width="1.1"/>
<path d="M171.46 299.05L179.06 306.65M179.06 299.05L171.46 306.65M175.26 298.55L175.26 307.15" stroke="#5DB5CC" stroke-width="1.1"/>
<path d="M177.47 307.31L185.07 314.91M185.07 307.31L177.47 314.91M181.27 306.81L181.27 315.41" stroke="#5DB5CC" stroke-width="1.1"/>
<path d="M183.48 315.27L191.08 322.88M191.08 315.27L183.48 322.88M187.28 314.77L187.28 323.38" stroke="#5DB5CC" stroke-width="1.1"/>
<path d="M189.49 322.06L197.09 329.66M197.09 322.06L189.49 329.66M193.29 321.56L193.29 330.16" stroke="#5DB5CC" stroke-width="1.1"/>
<path d="M195.5 325.89L203.1 333.5M203.1 325.89L195.5 333.5M199.3 325.39L199.3 334" stroke="#5DB5CC" stroke-width="1.1"/>
<path d="M201.51 330.32L209.12 337.92M209.12 330.32L201.51 337.92M205.31 329.82L205.31 338.42" stroke="#5DB5CC" stroke-width="1.1"/>
<path d="M207.53 334.15L215.13 341.75M215.13 334.15L207.53 341.75M211.33 333.65L211.33 342.25" stroke="#5DB5CC" stroke-width="1.1"/>
<path d="M213.54 343L221.14 350.61M221.14 343L213.54 350.61M217.34 342.5L217.34 351.11" stroke="#5DB5CC" stroke-width="1.1"/>
<path d="M219.55 353.33L227.15 360.93M227.15 353.33L219.55 360.93M223.35 352.83L223.35 361.43" stroke="#5DB5CC" stroke-width="1.1"/>
<path d="M225.56 357.75L233.16 365.36M233.16 357.75L225.56 365.36M229.36 357.25L229.36 365.86" stroke="#5DB5CC" stroke-width="1.1"/>
<path d="M231.57 359.52L239.17 367.12M239.17 359.52L231.57 367.12M235.37 359.02L235.37 367.62" stroke="#5DB5CC" stroke-width="1.1"/>
<path d="M237.59 361.59L245.19 369.19M245.19 361.59L237.59 369.19M241.39 361.09L241.39 369.69" stroke="#5DB5CC" stroke-width="1.1"/>
<path d="M243.6 362.77L251.2 370.37M251.2 362.77L243.6 370.37M247.4 362.27L247.4 370.87" stroke="#5DB5CC" stroke-width="1.1"/>
<path d="M249.61 363.95L257.21 371.55M257.21 363.95L249.61 371.55M253.41 363.45L253.41 372.05" stroke="#5DB5CC" stroke-width="1.1"/>
<path d="M255.62 365.31L263.22 372.91M263.22 365.31L255.62 372.91M259.42 364.81L259.42 373.41" stroke="#5DB5CC" stroke-width="1.1"/>
<path d="M261.63 366.66L269.23 374.26M269.23 366.66L261.63 374.26M265.43 366.16L265.43 374.76" stroke="#5DB5CC" stroke-width="1.1"/>
<path d="M267.64 368.02L275.24 375.62M275.24 368.02L267.64 375.62M271.44 367.52L271.44 376.12" stroke="#5DB5CC" stroke-width="1.1"/>
<path d="M273.65 369.38L281.25 376.98M281.25 369.38L273.65 376.98M277.45 368.88L277.45 377.48" stroke="#5DB5CC" stroke-width="1.1"/>
<path d="M279.67 370.74L287.27 378.34M287.27 370.74L279.67 378.34M283.47 370.24L283.47 378.84" stroke="#5DB5CC" stroke-width="1.1"/>
<path d="M285.68 371.38L293.28 378.98M293.28 371.38L285.68 378.98M289.48 370.88L289.48 379.48" stroke="#5DB5CC" stroke-width="1.1"/>
<path d="M291.69 372.03L299.29 379.63M299.29 372.03L291.69 379.63M295.49 371.53L295.49 380.13" stroke="#5DB5CC" stroke-width="1.1"/>
<path d="M297.7 372.68L305.3 380.28M305.3 372.68L297.7 380.28M301.5 372.18L301.5 380.78" stroke="#5DB5CC" stroke-width="1.1"/>
<path d="M303.71 373.33L311.31 380.93M311.31 373.33L303.71 380.93M307.51 372.83L307.51 381.43" stroke="#5DB5CC" stroke-width="1.1"/>
<path d="M309.72 373.98L317.32 381.58M317.32 373.98L309.72 381.58M313.52 373.48L313.52 382.08" stroke="#5DB5CC" stroke-width="1.1"/>
<path d="M315.74 374.42L323.34 382.02M323.34 374.42L315.74 382.02M319.54 373.92L319.54 382.52" stroke="#5DB5CC" stroke-width="1.1"/>
<path d="M321.75 374.87L329.35 382.47M329.35 374.87L321.75 382.47M325.55 374.37L325.55 382.97" stroke="#5DB5CC" stroke-width="1.1"/>
<path d="M327.76 375.31L335.36 382.91M335.36 375.31L327.76 382.91M331.56 374.81L331.56 383.41" stroke="#5DB5CC" stroke-width="1.1"/>
<path d="M333.77 375.75L341.37 383.35M341.37 375.75L333.77 383.35M337.57 375.25L337.57 383.85" stroke="#5DB5CC" stroke-width="1.1"/>
<line x1="424.5" y1="197.8" x2="443.8" y2="197.8" stroke="#4F81BD" stroke-width="3" stroke-linecap="round"/>
<path d="M434.2 194.92L437.08 197.8L434.2 200.68L431.32 197.8Z" fill="#8DB3E2" stroke="#3A6DAA" stroke-width="0.7"/>
<text x="446.3" y="201.5" font-size="9.6" fill="#000" stroke="#000" stroke-width="0.15" textLength="16.5" lengthAdjust="spacingAndGlyphs">WT*</text>
<line x1="424.5" y1="216.4" x2="443.8" y2="216.4" stroke="#C0504D" stroke-width="3" stroke-linecap="round"/>
<rect x="431.39" y="213.59" width="5.62" height="5.62" fill="#EC8A87" stroke="#D0605D" stroke-width="0.7"/>
<text x="446.3" y="220.1" font-size="9.6" fill="#000" stroke="#000" stroke-width="0.15" textLength="15" lengthAdjust="spacingAndGlyphs">Δ90</text>
<line x1="424.5" y1="235.2" x2="443.8" y2="235.2" stroke="#9BBB59" stroke-width="3" stroke-linecap="round"/>
<path d="M434.2 232.18L437.22 237.62L431.18 237.62Z" fill="#C3DA8A" stroke="#86A846" stroke-width="0.7"/>
<text x="446.3" y="238.9" font-size="9.6" fill="#000" stroke="#000" stroke-width="0.15" textLength="19.5" lengthAdjust="spacingAndGlyphs">Δ180*</text>
<line x1="424.5" y1="254.2" x2="443.8" y2="254.2" stroke="#8064A2" stroke-width="3" stroke-linecap="round"/>
<path d="M430.89 250.89L437.51 257.51M437.51 250.89L430.89 257.51" stroke="#A08CC0" stroke-width="1.1"/>
<text x="446.3" y="257.9" font-size="9.6" fill="#000" stroke="#000" stroke-width="0.15" textLength="19.5" lengthAdjust="spacingAndGlyphs">Δ270*</text>
<line x1="424.5" y1="273.0" x2="443.8" y2="273.0" stroke="#4BACC6" stroke-width="3" stroke-linecap="round"/>
<path d="M431.46 270.26L436.94 275.74M436.94 270.26L431.46 275.74M434.2 269.76L434.2 276.24" stroke="#5DB5CC" stroke-width="1.1"/>
<text x="446.3" y="276.7" font-size="9.6" fill="#000" stroke="#000" stroke-width="0.15" textLength="19" lengthAdjust="spacingAndGlyphs">Δ369</text>
<text x="8" y="506.3" font-size="19.5" font-weight="bold" fill="#000">B</text>
<line x1="39" y1="521.3" x2="408.9" y2="521.3" stroke="#BABABA" stroke-width="1.2"/>
<text x="33" y="525.4" font-size="8.4" text-anchor="end" fill="#000" stroke="#000" stroke-width="0.12">2.00</text>
<line x1="39" y1="568.66" x2="408.9" y2="568.66" stroke="#BABABA" stroke-width="1.2"/>
<text x="33" y="572.76" font-size="8.4" text-anchor="end" fill="#000" stroke="#000" stroke-width="0.12">1.00</text>
<line x1="39" y1="616.01" x2="408.9" y2="616.01" stroke="#BABABA" stroke-width="1.2"/>
<text x="33" y="620.11" font-size="8.4" text-anchor="end" fill="#000" stroke="#000" stroke-width="0.12">0.00</text>
<line x1="39" y1="663.37" x2="408.9" y2="663.37" stroke="#BABABA" stroke-width="1.2"/>
<text x="33" y="667.47" font-size="8.4" text-anchor="end" fill="#000" stroke="#000" stroke-width="0.12">-1.00</text>
<line x1="39" y1="710.73" x2="408.9" y2="710.73" stroke="#BABABA" stroke-width="1.2"/>
<text x="33" y="714.83" font-size="8.4" text-anchor="end" fill="#000" stroke="#000" stroke-width="0.12">-2.00</text>
<line x1="39" y1="758.09" x2="408.9" y2="758.09" stroke="#BABABA" stroke-width="1.2"/>
<text x="33" y="762.19" font-size="8.4" text-anchor="end" fill="#000" stroke="#000" stroke-width="0.12">-3.00</text>
<line x1="39" y1="805.44" x2="408.9" y2="805.44" stroke="#BABABA" stroke-width="1.2"/>
<text x="33" y="809.54" font-size="8.4" text-anchor="end" fill="#000" stroke="#000" stroke-width="0.12">-4.00</text>
<line x1="39" y1="852.8" x2="408.9" y2="852.8" stroke="#BABABA" stroke-width="1.2"/>
<text x="33" y="856.9" font-size="8.4" text-anchor="end" fill="#000" stroke="#000" stroke-width="0.12">-5.00</text>
<line x1="41.9" y1="521.3" x2="41.9" y2="852.8" stroke="#D0D0D0" stroke-width="1.4"/>
<line x1="41.9" y1="616.01" x2="41.9" y2="619.51" stroke="#D0D0D0" stroke-width="1"/>
<line x1="103.07" y1="616.01" x2="103.07" y2="619.51" stroke="#D0D0D0" stroke-width="1"/>
<line x1="164.23" y1="616.01" x2="164.23" y2="619.51" stroke="#D0D0D0" stroke-width="1"/>
<line x1="225.4" y1="616.01" x2="225.4" y2="619.51" stroke="#D0D0D0" stroke-width="1"/>
<line x1="286.57" y1="616.01" x2="286.57" y2="619.51" stroke="#D0D0D0" stroke-width="1"/>
<line x1="347.73" y1="616.01" x2="347.73" y2="619.51" stroke="#D0D0D0" stroke-width="1"/>
<line x1="408.9" y1="616.01" x2="408.9" y2="619.51" stroke="#D0D0D0" stroke-width="1"/>
<text transform="translate(9.6 687.0) rotate(-90)" font-size="9" font-weight="bold" text-anchor="middle" fill="#000" textLength="129" lengthAdjust="spacingAndGlyphs">Percentage Difference Versus WT</text>
<polyline points="72.48,647.27 78.6,774.19 84.72,795.5 90.83,796.92 96.95,729.67 103.07,738.67 109.18,701.73 115.3,699.36 121.42,684.21 127.53,653.9 133.65,638.27 139.77,616.96 145.88,598.02 152,580.02 158.12,567.24 164.23,559.66 170.35,554.92 176.47,550.19 182.58,547.35 188.7,542.61 194.82,543.08 200.93,542.14 207.05,546.87 213.17,560.13 219.28,566.29 225.4,585.23 231.52,580.5 237.63,582.86 243.75,586.18 249.87,588.07 255.98,589.81 262.1,591.55 268.22,593.28 274.33,595.02 280.45,596.76 286.57,598.49 292.68,599.6 298.8,600.7 304.92,601.81 311.03,602.91 317.15,604.02 323.27,605.12 329.38,606.23 335.5,607.33 341.62,608.44" fill="none" stroke="#C0504D" stroke-width="4.0" stroke-linejoin="round" stroke-linecap="round"/>
<rect x="68.58" y="643.37" width="7.8" height="7.8" fill="#EC8A87" stroke="#D0605D" stroke-width="0.7"/>
<rect x="74.7" y="770.29" width="7.8" height="7.8" fill="#EC8A87" stroke="#D0605D" stroke-width="0.7"/>
<rect x="80.82" y="791.6" width="7.8" height="7.8" fill="#EC8A87" stroke="#D0605D" stroke-width="0.7"/>
<rect x="86.93" y="793.02" width="7.8" height="7.8" fill="#EC8A87" stroke="#D0605D" stroke-width="0.7"/>
<rect x="93.05" y="725.77" width="7.8" height="7.8" fill="#EC8A87" stroke="#D0605D" stroke-width="0.7"/>
<rect x="99.17" y="734.77" width="7.8" height="7.8" fill="#EC8A87" stroke="#D0605D" stroke-width="0.7"/>
<rect x="105.28" y="697.83" width="7.8" height="7.8" fill="#EC8A87" stroke="#D0605D" stroke-width="0.7"/>
<rect x="111.4" y="695.46" width="7.8" height="7.8" fill="#EC8A87" stroke="#D0605D" stroke-width="0.7"/>
<rect x="117.52" y="680.31" width="7.8" height="7.8" fill="#EC8A87" stroke="#D0605D" stroke-width="0.7"/>
<rect x="123.63" y="650" width="7.8" height="7.8" fill="#EC8A87" stroke="#D0605D" stroke-width="0.7"/>
<rect x="129.75" y="634.37" width="7.8" height="7.8" fill="#EC8A87" stroke="#D0605D" stroke-width="0.7"/>
<rect x="135.87" y="613.06" width="7.8" height="7.8" fill="#EC8A87" stroke="#D0605D" stroke-width="0.7"/>
<rect x="141.98" y="594.12" width="7.8" height="7.8" fill="#EC8A87" stroke="#D0605D" stroke-width="0.7"/>
<rect x="148.1" y="576.12" width="7.8" height="7.8" fill="#EC8A87" stroke="#D0605D" stroke-width="0.7"/>
<rect x="154.22" y="563.34" width="7.8" height="7.8" fill="#EC8A87" stroke="#D0605D" stroke-width="0.7"/>
<rect x="160.33" y="555.76" width="7.8" height="7.8" fill="#EC8A87" stroke="#D0605D" stroke-width="0.7"/>
<rect x="166.45" y="551.02" width="7.8" height="7.8" fill="#EC8A87" stroke="#D0605D" stroke-width="0.7"/>
<rect x="172.57" y="546.29" width="7.8" height="7.8" fill="#EC8A87" stroke="#D0605D" stroke-width="0.7"/>
<rect x="178.68" y="543.45" width="7.8" height="7.8" fill="#EC8A87" stroke="#D0605D" stroke-width="0.7"/>
<rect x="184.8" y="538.71" width="7.8" height="7.8" fill="#EC8A87" stroke="#D0605D" stroke-width="0.7"/>
<rect x="190.92" y="539.18" width="7.8" height="7.8" fill="#EC8A87" stroke="#D0605D" stroke-width="0.7"/>
<rect x="197.03" y="538.24" width="7.8" height="7.8" fill="#EC8A87" stroke="#D0605D" stroke-width="0.7"/>
<rect x="203.15" y="542.97" width="7.8" height="7.8" fill="#EC8A87" stroke="#D0605D" stroke-width="0.7"/>
<rect x="209.27" y="556.23" width="7.8" height="7.8" fill="#EC8A87" stroke="#D0605D" stroke-width="0.7"/>
<rect x="215.38" y="562.39" width="7.8" height="7.8" fill="#EC8A87" stroke="#D0605D" stroke-width="0.7"/>
<rect x="221.5" y="581.33" width="7.8" height="7.8" fill="#EC8A87" stroke="#D0605D" stroke-width="0.7"/>
<rect x="227.62" y="576.6" width="7.8" height="7.8" fill="#EC8A87" stroke="#D0605D" stroke-width="0.7"/>
<rect x="233.73" y="578.96" width="7.8" height="7.8" fill="#EC8A87" stroke="#D0605D" stroke-width="0.7"/>
<rect x="239.85" y="582.28" width="7.8" height="7.8" fill="#EC8A87" stroke="#D0605D" stroke-width="0.7"/>
<rect x="245.97" y="584.17" width="7.8" height="7.8" fill="#EC8A87" stroke="#D0605D" stroke-width="0.7"/>
<rect x="252.08" y="585.91" width="7.8" height="7.8" fill="#EC8A87" stroke="#D0605D" stroke-width="0.7"/>
<rect x="258.2" y="587.65" width="7.8" height="7.8" fill="#EC8A87" stroke="#D0605D" stroke-width="0.7"/>
<rect x="264.32" y="589.38" width="7.8" height="7.8" fill="#EC8A87" stroke="#D0605D" stroke-width="0.7"/>
<rect x="270.43" y="591.12" width="7.8" height="7.8" fill="#EC8A87" stroke="#D0605D" stroke-width="0.7"/>
<rect x="276.55" y="592.86" width="7.8" height="7.8" fill="#EC8A87" stroke="#D0605D" stroke-width="0.7"/>
<rect x="282.67" y="594.59" width="7.8" height="7.8" fill="#EC8A87" stroke="#D0605D" stroke-width="0.7"/>
<rect x="288.78" y="595.7" width="7.8" height="7.8" fill="#EC8A87" stroke="#D0605D" stroke-width="0.7"/>
<rect x="294.9" y="596.8" width="7.8" height="7.8" fill="#EC8A87" stroke="#D0605D" stroke-width="0.7"/>
<rect x="301.02" y="597.91" width="7.8" height="7.8" fill="#EC8A87" stroke="#D0605D" stroke-width="0.7"/>
<rect x="307.13" y="599.01" width="7.8" height="7.8" fill="#EC8A87" stroke="#D0605D" stroke-width="0.7"/>
<rect x="313.25" y="600.12" width="7.8" height="7.8" fill="#EC8A87" stroke="#D0605D" stroke-width="0.7"/>
<rect x="319.37" y="601.22" width="7.8" height="7.8" fill="#EC8A87" stroke="#D0605D" stroke-width="0.7"/>
<rect x="325.48" y="602.33" width="7.8" height="7.8" fill="#EC8A87" stroke="#D0605D" stroke-width="0.7"/>
<rect x="331.6" y="603.43" width="7.8" height="7.8" fill="#EC8A87" stroke="#D0605D" stroke-width="0.7"/>
<rect x="337.72" y="604.54" width="7.8" height="7.8" fill="#EC8A87" stroke="#D0605D" stroke-width="0.7"/>
<polyline points="72.48,653.43 78.6,782.71 84.72,800.71 90.83,802.13 96.95,733.46 103.07,738.67 109.18,694.15 115.3,688.94 121.42,673.79 127.53,647.27 133.65,628.33 139.77,611.28 145.88,589.02 152,574.34 158.12,561.55 164.23,553.03 170.35,550.19 176.47,544.5 182.58,541.19 188.7,565.34 194.82,563.45 200.93,562.5 207.05,567.24 213.17,568.66 219.28,571.5 225.4,578.6 231.52,582.39 237.63,585.71 243.75,588.55 249.87,589.97 255.98,591.78 262.1,593.6 268.22,595.41 274.33,597.23 280.45,599.04 286.57,600.86 292.68,601.86 298.8,602.86 304.92,603.86 311.03,604.86 317.15,605.86 323.27,606.86 329.38,607.86 335.5,608.86 341.62,609.38" fill="none" stroke="#9BBB59" stroke-width="4.0" stroke-linejoin="round" stroke-linecap="round"/>
<path d="M72.48 649.23L76.68 656.79L68.28 656.79Z" fill="#C3DA8A" stroke="#86A846" stroke-width="0.7"/>
<path d="M78.6 778.51L82.8 786.07L74.4 786.07Z" fill="#C3DA8A" stroke="#86A846" stroke-width="0.7"/>
<path d="M84.72 796.51L88.92 804.07L80.52 804.07Z" fill="#C3DA8A" stroke="#86A846" stroke-width="0.7"/>
<path d="M90.83 797.93L95.03 805.49L86.63 805.49Z" fill="#C3DA8A" stroke="#86A846" stroke-width="0.7"/>
<path d="M96.95 729.26L101.15 736.82L92.75 736.82Z" fill="#C3DA8A" stroke="#86A846" stroke-width="0.7"/>
<path d="M103.07 734.47L107.27 742.03L98.87 742.03Z" fill="#C3DA8A" stroke="#86A846" stroke-width="0.7"/>
<path d="M109.18 689.95L113.38 697.51L104.98 697.51Z" fill="#C3DA8A" stroke="#86A846" stroke-width="0.7"/>
<path d="M115.3 684.74L119.5 692.3L111.1 692.3Z" fill="#C3DA8A" stroke="#86A846" stroke-width="0.7"/>
<path d="M121.42 669.59L125.62 677.15L117.22 677.15Z" fill="#C3DA8A" stroke="#86A846" stroke-width="0.7"/>
<path d="M127.53 643.07L131.73 650.63L123.33 650.63Z" fill="#C3DA8A" stroke="#86A846" stroke-width="0.7"/>
<path d="M133.65 624.13L137.85 631.69L129.45 631.69Z" fill="#C3DA8A" stroke="#86A846" stroke-width="0.7"/>
<path d="M139.77 607.08L143.97 614.64L135.57 614.64Z" fill="#C3DA8A" stroke="#86A846" stroke-width="0.7"/>
<path d="M145.88 584.82L150.08 592.38L141.68 592.38Z" fill="#C3DA8A" stroke="#86A846" stroke-width="0.7"/>
<path d="M152 570.14L156.2 577.7L147.8 577.7Z" fill="#C3DA8A" stroke="#86A846" stroke-width="0.7"/>
<path d="M158.12 557.35L162.32 564.91L153.92 564.91Z" fill="#C3DA8A" stroke="#86A846" stroke-width="0.7"/>
<path d="M164.23 548.83L168.43 556.39L160.03 556.39Z" fill="#C3DA8A" stroke="#86A846" stroke-width="0.7"/>
<path d="M170.35 545.99L174.55 553.55L166.15 553.55Z" fill="#C3DA8A" stroke="#86A846" stroke-width="0.7"/>
<path d="M176.47 540.3L180.67 547.87L172.27 547.87Z" fill="#C3DA8A" stroke="#86A846" stroke-width="0.7"/>
<path d="M182.58 536.99L186.78 544.55L178.38 544.55Z" fill="#C3DA8A" stroke="#86A846" stroke-width="0.7"/>
<path d="M188.7 561.14L192.9 568.7L184.5 568.7Z" fill="#C3DA8A" stroke="#86A846" stroke-width="0.7"/>
<path d="M194.82 559.25L199.02 566.81L190.62 566.81Z" fill="#C3DA8A" stroke="#86A846" stroke-width="0.7"/>
<path d="M200.93 558.3L205.13 565.86L196.73 565.86Z" fill="#C3DA8A" stroke="#86A846" stroke-width="0.7"/>
<path d="M207.05 563.04L211.25 570.6L202.85 570.6Z" fill="#C3DA8A" stroke="#86A846" stroke-width="0.7"/>
<path d="M213.17 564.46L217.37 572.02L208.97 572.02Z" fill="#C3DA8A" stroke="#86A846" stroke-width="0.7"/>
<path d="M219.28 567.3L223.48 574.86L215.08 574.86Z" fill="#C3DA8A" stroke="#86A846" stroke-width="0.7"/>
<path d="M225.4 574.4L229.6 581.96L221.2 581.96Z" fill="#C3DA8A" stroke="#86A846" stroke-width="0.7"/>
<path d="M231.52 578.19L235.72 585.75L227.32 585.75Z" fill="#C3DA8A" stroke="#86A846" stroke-width="0.7"/>
<path d="M237.63 581.51L241.83 589.07L233.43 589.07Z" fill="#C3DA8A" stroke="#86A846" stroke-width="0.7"/>
<path d="M243.75 584.35L247.95 591.91L239.55 591.91Z" fill="#C3DA8A" stroke="#86A846" stroke-width="0.7"/>
<path d="M249.87 585.77L254.07 593.33L245.67 593.33Z" fill="#C3DA8A" stroke="#86A846" stroke-width="0.7"/>
<path d="M255.98 587.58L260.18 595.14L251.78 595.14Z" fill="#C3DA8A" stroke="#86A846" stroke-width="0.7"/>
<path d="M262.1 589.4L266.3 596.96L257.9 596.96Z" fill="#C3DA8A" stroke="#86A846" stroke-width="0.7"/>
<path d="M268.22 591.21L272.42 598.77L264.02 598.77Z" fill="#C3DA8A" stroke="#86A846" stroke-width="0.7"/>
<path d="M274.33 593.03L278.53 600.59L270.13 600.59Z" fill="#C3DA8A" stroke="#86A846" stroke-width="0.7"/>
<path d="M280.45 594.84L284.65 602.4L276.25 602.4Z" fill="#C3DA8A" stroke="#86A846" stroke-width="0.7"/>
<path d="M286.57 596.66L290.77 604.22L282.37 604.22Z" fill="#C3DA8A" stroke="#86A846" stroke-width="0.7"/>
<path d="M292.68 597.66L296.88 605.22L288.48 605.22Z" fill="#C3DA8A" stroke="#86A846" stroke-width="0.7"/>
<path d="M298.8 598.66L303 606.22L294.6 606.22Z" fill="#C3DA8A" stroke="#86A846" stroke-width="0.7"/>
<path d="M304.92 599.66L309.12 607.22L300.72 607.22Z" fill="#C3DA8A" stroke="#86A846" stroke-width="0.7"/>
<path d="M311.03 600.66L315.23 608.22L306.83 608.22Z" fill="#C3DA8A" stroke="#86A846" stroke-width="0.7"/>
<path d="M317.15 601.66L321.35 609.22L312.95 609.22Z" fill="#C3DA8A" stroke="#86A846" stroke-width="0.7"/>
<path d="M323.27 602.66L327.47 610.22L319.07 610.22Z" fill="#C3DA8A" stroke="#86A846" stroke-width="0.7"/>
<path d="M329.38 603.66L333.58 611.22L325.18 611.22Z" fill="#C3DA8A" stroke="#86A846" stroke-width="0.7"/>
<path d="M335.5 604.66L339.7 612.22L331.3 612.22Z" fill="#C3DA8A" stroke="#86A846" stroke-width="0.7"/>
<path d="M341.62 605.18L345.82 612.74L337.42 612.74Z" fill="#C3DA8A" stroke="#86A846" stroke-width="0.7"/>
<polyline points="72.48,614.12 78.6,684.21 84.72,696.52 90.83,676.16 96.95,634.48 103.07,624.06 109.18,609.86 115.3,592.34 121.42,584.28 127.53,589.49 133.65,597.07 139.77,588.55 145.88,583.34 152,594.7 158.12,602.75 164.23,602.75 170.35,603.23 176.47,605.6 182.58,609.86 188.7,612.23 194.82,612.23 200.93,606.54 207.05,616.49 213.17,617.43 219.28,617.43 225.4,617.43 231.52,617.43 237.63,617.43 243.75,617.43 249.87,617.43 255.98,617.43 262.1,617.43 268.22,617.43 274.33,617.43 280.45,617.43 286.57,617.43 292.68,617.43 298.8,617.43 304.92,617.43 311.03,617.43 317.15,617.43 323.27,617.43 329.38,617.43 335.5,617.43 341.62,617.43" fill="none" stroke="#8064A2" stroke-width="4.0" stroke-linejoin="round" stroke-linecap="round"/>
<path d="M67.88 609.52L77.08 618.72M77.08 609.52L67.88 618.72" stroke="#A08CC0" stroke-width="1.1"/>
<path d="M74 679.61L83.2 688.81M83.2 679.61L74 688.81" stroke="#A08CC0" stroke-width="1.1"/>
<path d="M80.12 691.92L89.32 701.12M89.32 691.92L80.12 701.12" stroke="#A08CC0" stroke-width="1.1"/>
<path d="M86.23 671.56L95.43 680.76M95.43 671.56L86.23 680.76" stroke="#A08CC0" stroke-width="1.1"/>
<path d="M92.35 629.88L101.55 639.08M101.55 629.88L92.35 639.08" stroke="#A08CC0" stroke-width="1.1"/>
<path d="M98.47 619.46L107.67 628.66M107.67 619.46L98.47 628.66" stroke="#A08CC0" stroke-width="1.1"/>
<path d="M104.58 605.26L113.78 614.46M113.78 605.26L104.58 614.46" stroke="#A08CC0" stroke-width="1.1"/>
<path d="M110.7 587.74L119.9 596.94M119.9 587.74L110.7 596.94" stroke="#A08CC0" stroke-width="1.1"/>
<path d="M116.82 579.68L126.02 588.88M126.02 579.68L116.82 588.88" stroke="#A08CC0" stroke-width="1.1"/>
<path d="M122.93 584.89L132.13 594.09M132.13 584.89L122.93 594.09" stroke="#A08CC0" stroke-width="1.1"/>
<path d="M129.05 592.47L138.25 601.67M138.25 592.47L129.05 601.67" stroke="#A08CC0" stroke-width="1.1"/>
<path d="M135.17 583.95L144.37 593.15M144.37 583.95L135.17 593.15" stroke="#A08CC0" stroke-width="1.1"/>
<path d="M141.28 578.74L150.48 587.94M150.48 578.74L141.28 587.94" stroke="#A08CC0" stroke-width="1.1"/>
<path d="M147.4 590.1L156.6 599.3M156.6 590.1L147.4 599.3" stroke="#A08CC0" stroke-width="1.1"/>
<path d="M153.52 598.15L162.72 607.35M162.72 598.15L153.52 607.35" stroke="#A08CC0" stroke-width="1.1"/>
<path d="M159.63 598.15L168.83 607.35M168.83 598.15L159.63 607.35" stroke="#A08CC0" stroke-width="1.1"/>
<path d="M165.75 598.63L174.95 607.83M174.95 598.63L165.75 607.83" stroke="#A08CC0" stroke-width="1.1"/>
<path d="M171.87 601L181.07 610.2M181.07 601L171.87 610.2" stroke="#A08CC0" stroke-width="1.1"/>
<path d="M177.98 605.26L187.18 614.46M187.18 605.26L177.98 614.46" stroke="#A08CC0" stroke-width="1.1"/>
<path d="M184.1 607.63L193.3 616.83M193.3 607.63L184.1 616.83" stroke="#A08CC0" stroke-width="1.1"/>
<path d="M190.22 607.63L199.42 616.83M199.42 607.63L190.22 616.83" stroke="#A08CC0" stroke-width="1.1"/>
<path d="M196.33 601.94L205.53 611.14M205.53 601.94L196.33 611.14" stroke="#A08CC0" stroke-width="1.1"/>
<path d="M202.45 611.89L211.65 621.09M211.65 611.89L202.45 621.09" stroke="#A08CC0" stroke-width="1.1"/>
<path d="M208.57 612.83L217.77 622.03M217.77 612.83L208.57 622.03" stroke="#A08CC0" stroke-width="1.1"/>
<path d="M214.68 612.83L223.88 622.03M223.88 612.83L214.68 622.03" stroke="#A08CC0" stroke-width="1.1"/>
<path d="M220.8 612.83L230 622.03M230 612.83L220.8 622.03" stroke="#A08CC0" stroke-width="1.1"/>
<path d="M226.92 612.83L236.12 622.03M236.12 612.83L226.92 622.03" stroke="#A08CC0" stroke-width="1.1"/>
<path d="M233.03 612.83L242.23 622.03M242.23 612.83L233.03 622.03" stroke="#A08CC0" stroke-width="1.1"/>
<path d="M239.15 612.83L248.35 622.03M248.35 612.83L239.15 622.03" stroke="#A08CC0" stroke-width="1.1"/>
<path d="M245.27 612.83L254.47 622.03M254.47 612.83L245.27 622.03" stroke="#A08CC0" stroke-width="1.1"/>
<path d="M251.38 612.83L260.58 622.03M260.58 612.83L251.38 622.03" stroke="#A08CC0" stroke-width="1.1"/>
<path d="M257.5 612.83L266.7 622.03M266.7 612.83L257.5 622.03" stroke="#A08CC0" stroke-width="1.1"/>
<path d="M263.62 612.83L272.82 622.03M272.82 612.83L263.62 622.03" stroke="#A08CC0" stroke-width="1.1"/>
<path d="M269.73 612.83L278.93 622.03M278.93 612.83L269.73 622.03" stroke="#A08CC0" stroke-width="1.1"/>
<path d="M275.85 612.83L285.05 622.03M285.05 612.83L275.85 622.03" stroke="#A08CC0" stroke-width="1.1"/>
<path d="M281.97 612.83L291.17 622.03M291.17 612.83L281.97 622.03" stroke="#A08CC0" stroke-width="1.1"/>
<path d="M288.08 612.83L297.28 622.03M297.28 612.83L288.08 622.03" stroke="#A08CC0" stroke-width="1.1"/>
<path d="M294.2 612.83L303.4 622.03M303.4 612.83L294.2 622.03" stroke="#A08CC0" stroke-width="1.1"/>
<path d="M300.32 612.83L309.52 622.03M309.52 612.83L300.32 622.03" stroke="#A08CC0" stroke-width="1.1"/>
<path d="M306.43 612.83L315.63 622.03M315.63 612.83L306.43 622.03" stroke="#A08CC0" stroke-width="1.1"/>
<path d="M312.55 612.83L321.75 622.03M321.75 612.83L312.55 622.03" stroke="#A08CC0" stroke-width="1.1"/>
<path d="M318.67 612.83L327.87 622.03M327.87 612.83L318.67 622.03" stroke="#A08CC0" stroke-width="1.1"/>
<path d="M324.78 612.83L333.98 622.03M333.98 612.83L324.78 622.03" stroke="#A08CC0" stroke-width="1.1"/>
<path d="M330.9 612.83L340.1 622.03M340.1 612.83L330.9 622.03" stroke="#A08CC0" stroke-width="1.1"/>
<path d="M337.02 612.83L346.22 622.03M346.22 612.83L337.02 622.03" stroke="#A08CC0" stroke-width="1.1"/>
<polyline points="72.48,614.12 78.6,738.67 84.72,767.56 90.83,759.98 96.95,711.68 103.07,720.67 109.18,696.52 115.3,684.21 121.42,665.74 127.53,642.06 133.65,639.69 139.77,620.75 145.88,596.12 152,582.39 158.12,571.5 164.23,570.08 170.35,555.4 176.47,562.03 182.58,555.4 188.7,558.24 194.82,558.71 200.93,555.4 207.05,563.92 213.17,560.13 219.28,574.81 225.4,591.39 231.52,592.34 237.63,594.23 243.75,596.12 249.87,596.12 255.98,596.52 262.1,597.86 268.22,599.2 274.33,600.54 280.45,601.89 286.57,603.23 292.68,604.12 298.8,605.02 304.92,605.91 311.03,606.81 317.15,607.7 323.27,608.59 329.38,609.49 335.5,610.38 341.62,610.8" fill="none" stroke="#4BACC6" stroke-width="4.0" stroke-linejoin="round" stroke-linecap="round"/>
<path d="M68.68 610.32L76.28 617.92M76.28 610.32L68.68 617.92M72.48 609.82L72.48 618.42" stroke="#5DB5CC" stroke-width="1.1"/>
<path d="M74.8 734.87L82.4 742.47M82.4 734.87L74.8 742.47M78.6 734.37L78.6 742.97" stroke="#5DB5CC" stroke-width="1.1"/>
<path d="M80.92 763.76L88.52 771.36M88.52 763.76L80.92 771.36M84.72 763.26L84.72 771.86" stroke="#5DB5CC" stroke-width="1.1"/>
<path d="M87.03 756.18L94.63 763.78M94.63 756.18L87.03 763.78M90.83 755.68L90.83 764.28" stroke="#5DB5CC" stroke-width="1.1"/>
<path d="M93.15 707.88L100.75 715.48M100.75 707.88L93.15 715.48M96.95 707.38L96.95 715.98" stroke="#5DB5CC" stroke-width="1.1"/>
<path d="M99.27 716.87L106.87 724.47M106.87 716.87L99.27 724.47M103.07 716.37L103.07 724.97" stroke="#5DB5CC" stroke-width="1.1"/>
<path d="M105.38 692.72L112.98 700.32M112.98 692.72L105.38 700.32M109.18 692.22L109.18 700.82" stroke="#5DB5CC" stroke-width="1.1"/>
<path d="M111.5 680.41L119.1 688.01M119.1 680.41L111.5 688.01M115.3 679.91L115.3 688.51" stroke="#5DB5CC" stroke-width="1.1"/>
<path d="M117.62 661.94L125.22 669.54M125.22 661.94L117.62 669.54M121.42 661.44L121.42 670.04" stroke="#5DB5CC" stroke-width="1.1"/>
<path d="M123.73 638.26L131.33 645.86M131.33 638.26L123.73 645.86M127.53 637.76L127.53 646.36" stroke="#5DB5CC" stroke-width="1.1"/>
<path d="M129.85 635.89L137.45 643.49M137.45 635.89L129.85 643.49M133.65 635.39L133.65 643.99" stroke="#5DB5CC" stroke-width="1.1"/>
<path d="M135.97 616.95L143.57 624.55M143.57 616.95L135.97 624.55M139.77 616.45L139.77 625.05" stroke="#5DB5CC" stroke-width="1.1"/>
<path d="M142.08 592.32L149.68 599.92M149.68 592.32L142.08 599.92M145.88 591.82L145.88 600.42" stroke="#5DB5CC" stroke-width="1.1"/>
<path d="M148.2 578.59L155.8 586.19M155.8 578.59L148.2 586.19M152 578.09L152 586.69" stroke="#5DB5CC" stroke-width="1.1"/>
<path d="M154.32 567.7L161.92 575.3M161.92 567.7L154.32 575.3M158.12 567.2L158.12 575.8" stroke="#5DB5CC" stroke-width="1.1"/>
<path d="M160.43 566.28L168.03 573.88M168.03 566.28L160.43 573.88M164.23 565.78L164.23 574.38" stroke="#5DB5CC" stroke-width="1.1"/>
<path d="M166.55 551.6L174.15 559.2M174.15 551.6L166.55 559.2M170.35 551.1L170.35 559.7" stroke="#5DB5CC" stroke-width="1.1"/>
<path d="M172.67 558.23L180.27 565.83M180.27 558.23L172.67 565.83M176.47 557.73L176.47 566.33" stroke="#5DB5CC" stroke-width="1.1"/>
<path d="M178.78 551.6L186.38 559.2M186.38 551.6L178.78 559.2M182.58 551.1L182.58 559.7" stroke="#5DB5CC" stroke-width="1.1"/>
<path d="M184.9 554.44L192.5 562.04M192.5 554.44L184.9 562.04M188.7 553.94L188.7 562.54" stroke="#5DB5CC" stroke-width="1.1"/>
<path d="M191.02 554.91L198.62 562.51M198.62 554.91L191.02 562.51M194.82 554.41L194.82 563.01" stroke="#5DB5CC" stroke-width="1.1"/>
<path d="M197.13 551.6L204.73 559.2M204.73 551.6L197.13 559.2M200.93 551.1L200.93 559.7" stroke="#5DB5CC" stroke-width="1.1"/>
<path d="M203.25 560.12L210.85 567.72M210.85 560.12L203.25 567.72M207.05 559.62L207.05 568.22" stroke="#5DB5CC" stroke-width="1.1"/>
<path d="M209.37 556.33L216.97 563.93M216.97 556.33L209.37 563.93M213.17 555.83L213.17 564.43" stroke="#5DB5CC" stroke-width="1.1"/>
<path d="M215.48 571.01L223.08 578.61M223.08 571.01L215.48 578.61M219.28 570.51L219.28 579.11" stroke="#5DB5CC" stroke-width="1.1"/>
<path d="M221.6 587.59L229.2 595.19M229.2 587.59L221.6 595.19M225.4 587.09L225.4 595.69" stroke="#5DB5CC" stroke-width="1.1"/>
<path d="M227.72 588.54L235.32 596.14M235.32 588.54L227.72 596.14M231.52 588.04L231.52 596.64" stroke="#5DB5CC" stroke-width="1.1"/>
<path d="M233.83 590.43L241.43 598.03M241.43 590.43L233.83 598.03M237.63 589.93L237.63 598.53" stroke="#5DB5CC" stroke-width="1.1"/>
<path d="M239.95 592.32L247.55 599.92M247.55 592.32L239.95 599.92M243.75 591.82L243.75 600.42" stroke="#5DB5CC" stroke-width="1.1"/>
<path d="M246.07 592.32L253.67 599.92M253.67 592.32L246.07 599.92M249.87 591.82L249.87 600.42" stroke="#5DB5CC" stroke-width="1.1"/>
<path d="M252.18 592.72L259.78 600.32M259.78 592.72L252.18 600.32M255.98 592.22L255.98 600.82" stroke="#5DB5CC" stroke-width="1.1"/>
<path d="M258.3 594.06L265.9 601.66M265.9 594.06L258.3 601.66M262.1 593.56L262.1 602.16" stroke="#5DB5CC" stroke-width="1.1"/>
<path d="M264.42 595.4L272.02 603M272.02 595.4L264.42 603M268.22 594.9L268.22 603.5" stroke="#5DB5CC" stroke-width="1.1"/>
<path d="M270.53 596.74L278.13 604.34M278.13 596.74L270.53 604.34M274.33 596.24L274.33 604.84" stroke="#5DB5CC" stroke-width="1.1"/>
<path d="M276.65 598.09L284.25 605.69M284.25 598.09L276.65 605.69M280.45 597.59L280.45 606.19" stroke="#5DB5CC" stroke-width="1.1"/>
<path d="M282.77 599.43L290.37 607.03M290.37 599.43L282.77 607.03M286.57 598.93L286.57 607.53" stroke="#5DB5CC" stroke-width="1.1"/>
<path d="M288.88 600.32L296.48 607.92M296.48 600.32L288.88 607.92M292.68 599.82L292.68 608.42" stroke="#5DB5CC" stroke-width="1.1"/>
<path d="M295 601.22L302.6 608.82M302.6 601.22L295 608.82M298.8 600.72L298.8 609.32" stroke="#5DB5CC" stroke-width="1.1"/>
<path d="M301.12 602.11L308.72 609.71M308.72 602.11L301.12 609.71M304.92 601.61L304.92 610.21" stroke="#5DB5CC" stroke-width="1.1"/>
<path d="M307.23 603.01L314.83 610.61M314.83 603.01L307.23 610.61M311.03 602.51L311.03 611.11" stroke="#5DB5CC" stroke-width="1.1"/>
<path d="M313.35 603.9L320.95 611.5M320.95 603.9L313.35 611.5M317.15 603.4L317.15 612" stroke="#5DB5CC" stroke-width="1.1"/>
<path d="M319.47 604.79L327.07 612.39M327.07 604.79L319.47 612.39M323.27 604.29L323.27 612.89" stroke="#5DB5CC" stroke-width="1.1"/>
<path d="M325.58 605.69L333.18 613.29M333.18 605.69L325.58 613.29M329.38 605.19L329.38 613.79" stroke="#5DB5CC" stroke-width="1.1"/>
<path d="M331.7 606.58L339.3 614.18M339.3 606.58L331.7 614.18M335.5 606.08L335.5 614.68" stroke="#5DB5CC" stroke-width="1.1"/>
<path d="M337.82 607L345.42 614.6M345.42 607L337.82 614.6M341.62 606.5L341.62 615.1" stroke="#5DB5CC" stroke-width="1.1"/>
<rect x="39.4" y="624.8" width="4.6" height="7.4" fill="#fff"/>
<text transform="translate(41.9 631.6) scale(1 1.13)" font-size="8.4" text-anchor="middle" fill="#000" stroke="#000" stroke-width="0.12">0</text>
<text transform="translate(103.07 631.6) scale(1 1.13)" font-size="8.4" text-anchor="middle" fill="#000" stroke="#000" stroke-width="0.12">10</text>
<text transform="translate(164.23 631.6) scale(1 1.13)" font-size="8.4" text-anchor="middle" fill="#000" stroke="#000" stroke-width="0.12">20</text>
<text transform="translate(225.4 631.6) scale(1 1.13)" font-size="8.4" text-anchor="middle" fill="#000" stroke="#000" stroke-width="0.12">30</text>
<text transform="translate(286.57 631.6) scale(1 1.13)" font-size="8.4" text-anchor="middle" fill="#000" stroke="#000" stroke-width="0.12">40</text>
<text transform="translate(347.73 631.6) scale(1 1.13)" font-size="8.4" text-anchor="middle" fill="#000" stroke="#000" stroke-width="0.12">50</text>
<text transform="translate(408.9 631.6) scale(1 1.13)" font-size="8.4" text-anchor="middle" fill="#000" stroke="#000" stroke-width="0.12">60</text>
<line x1="430" y1="665.8" x2="449.3" y2="665.8" stroke="#C0504D" stroke-width="3" stroke-linecap="round"/>
<rect x="436.89" y="662.99" width="5.62" height="5.62" fill="#EC8A87" stroke="#D0605D" stroke-width="0.7"/>
<text x="451.8" y="669.5" font-size="9.6" fill="#000" stroke="#000" stroke-width="0.15" textLength="15" lengthAdjust="spacingAndGlyphs">Δ90</text>
<line x1="430" y1="684.6" x2="449.3" y2="684.6" stroke="#9BBB59" stroke-width="3" stroke-linecap="round"/>
<path d="M439.7 681.58L442.72 687.02L436.68 687.02Z" fill="#C3DA8A" stroke="#86A846" stroke-width="0.7"/>
<text x="451.8" y="688.3" font-size="9.6" fill="#000" stroke="#000" stroke-width="0.15" textLength="17.5" lengthAdjust="spacingAndGlyphs">Δ180</text>
<line x1="430" y1="703.3" x2="449.3" y2="703.3" stroke="#8064A2" stroke-width="3" stroke-linecap="round"/>
<path d="M436.39 699.99L443.01 706.61M443.01 699.99L436.39 706.61" stroke="#A08CC0" stroke-width="1.1"/>
<text x="451.8" y="707" font-size="9.6" fill="#000" stroke="#000" stroke-width="0.15" textLength="17.5" lengthAdjust="spacingAndGlyphs">Δ270</text>
<line x1="430" y1="722.0" x2="449.3" y2="722.0" stroke="#4BACC6" stroke-width="3" stroke-linecap="round"/>
<path d="M436.96 719.26L442.44 724.74M442.44 719.26L436.96 724.74M439.7 718.76L439.7 725.24" stroke="#5DB5CC" stroke-width="1.1"/>
<text x="451.8" y="725.7" font-size="9.6" fill="#000" stroke="#000" stroke-width="0.15" textLength="19" lengthAdjust="spacingAndGlyphs">Δ369</text>
<text x="224.7" y="863.4" font-size="9" font-weight="bold" text-anchor="middle" fill="#000" textLength="219" lengthAdjust="spacingAndGlyphs">Oligosaccharide Chain Length (Degree of Polymerisation)</text>
</svg>
</body></html>
